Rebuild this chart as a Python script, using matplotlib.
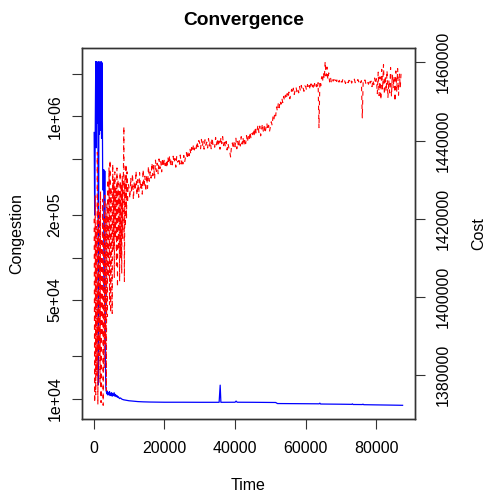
import numpy as np
import matplotlib
matplotlib.use("Agg")
import matplotlib.pyplot as plt
from matplotlib.ticker import FixedLocator, FixedFormatter, NullLocator

plt.rcParams["font.family"] = ["Liberation Sans", "DejaVu Sans"]

# ---------------------------------------------------------------------------
# Data
# ---------------------------------------------------------------------------

# Congestion (left, log axis) -- blue solid
cong_time = [
    150, 300, 450, 600, 750, 900, 1050, 1200, 1350, 1500,
    1650, 1800, 1950, 2100, 2250, 2400, 2550, 2700, 2850, 3000,
    3150, 3300, 3450, 3600, 3750, 3900, 4050, 4200, 4350, 4500,
    4650, 4800, 4950, 5100, 5250, 5400, 5600, 5800, 6000, 6200,
    6400, 6600, 6800, 7000, 7300, 7600, 8000, 8500, 9000, 10000,
    11000, 12500, 14000, 16000, 20000, 25000, 30000, 35500, 35800, 36000,
    40000, 40300, 40600, 45000, 51500, 52000, 58000, 63800, 64000, 64200,
    70000, 73000, 73200, 73400, 76000, 76200, 76400, 80000, 84000, 87400,
]
congestion = [
    7.7e5, 2.0e5, 7.5e5, 2.45e6, 6.0e5, 2.45e6, 9.0e5, 2.4e6, 1.25e4, 2.45e6,
    7.5e5, 2.4e6, 8.0e5, 2.45e6, 7.0e5, 2.4e6, 4.2e5, 3.0e5, 4.2e5, 6.0e4,
    4.1e5, 2.0e4, 1.2e4, 1.12e4, 1.08e4, 1.13e4, 1.06e4, 1.10e4, 1.07e4, 1.12e4,
    1.05e4, 1.09e4, 1.06e4, 1.10e4, 1.04e4, 1.08e4, 1.05e4, 1.10e4, 1.04e4, 1.07e4,
    1.03e4, 1.05e4, 1.02e4, 1.03e4, 1.00e4, 1.01e4, 9.9e3, 9.8e3, 9.75e3, 9.65e3,
    9.6e3, 9.52e3, 9.48e3, 9.45e3, 9.42e3, 9.42e3, 9.41e3, 9.41e3, 1.245e4, 9.41e3,
    9.42e3, 9.6e3, 9.42e3, 9.41e3, 9.38e3, 9.22e3, 9.2e3, 9.18e3, 9.28e3, 9.15e3,
    9.12e3, 9.1e3, 9.17e3, 9.08e3, 9.07e3, 9.13e3, 9.05e3, 9.02e3, 8.99e3, 8.96e3,
]

# Cost (right, linear axis) -- red dashed
cost_time_early = list(range(150, 9751, 150))
cost_early = [
    1420000, 1373000, 1426000, 1375000, 1418000, 1380000, 1437000, 1372500, 1424000, 1385000,
    1422000, 1378000, 1427000, 1373000, 1415000, 1390000, 1425000, 1372300, 1420000, 1382000,
    1426000, 1388000, 1421000, 1376000, 1424000, 1395000, 1430000, 1405000, 1433000, 1398000,
    1435000, 1396000, 1428000, 1410000, 1395800, 1434000, 1412000, 1430000, 1405000, 1432000,
    1415000, 1428000, 1408000, 1433000, 1402500, 1430000, 1412000, 1427000, 1404000, 1432000,
    1410000, 1429000, 1406000, 1431000, 1415000, 1428000, 1443600, 1404000, 1430000, 1418000,
    1434000, 1420000, 1432000, 1424000, 1429000,
]
cost_time_late = list(range(10000, 87001, 250))
cost_late = [
    # 10000 - 14750
    1428000, 1425200, 1430500, 1426800, 1431500, 1424900, 1429600, 1427200, 1432200, 1426000,
    1430000, 1425500, 1431800, 1427700, 1429400, 1426300, 1432600, 1428100, 1430900, 1427000,
    # 15000 - 19750
    1431200, 1427800, 1433500, 1429600, 1432000, 1430400, 1434300, 1431000, 1433600, 1430200,
    1435000, 1432100, 1434200, 1431500, 1435300, 1432800, 1434600, 1432000, 1435500, 1433300,
    # 20000 - 24750
    1435200, 1433600, 1434900, 1433000, 1435800, 1434100, 1436200, 1433400, 1435000, 1433800,
    1436000, 1434300, 1435400, 1433200, 1435900, 1434500, 1434900, 1433600, 1436300, 1434000,
    # 25000 - 29750
    1435300, 1434000, 1436200, 1434500, 1435800, 1436900, 1435300, 1437300, 1436100, 1437900,
    1436500, 1438200, 1437200, 1439000, 1437600, 1438700, 1438000, 1439700, 1438400, 1440000,
    # 30000 - 34750
    1439400, 1437900, 1440300, 1438500, 1439800, 1437800, 1440200, 1438800, 1439600, 1438100,
    1440500, 1438600, 1439900, 1437900, 1440700, 1439000, 1439400, 1438300, 1440800, 1438900,
    # 35000 - 39750
    1440500, 1438500, 1439900, 1437800, 1440800, 1439200, 1441000, 1438700, 1440200, 1438400,
    1439800, 1437600, 1439300, 1438100, 1437200, 1435800, 1438600, 1439400, 1437900, 1439600,
    # 40000 - 44750
    1438400, 1440600, 1437900, 1439800, 1438300, 1440200, 1438600, 1441000, 1439100, 1440800,
    1438700, 1440400, 1439200, 1441300, 1439600, 1441000, 1440100, 1442200, 1440600, 1441800,
    # 45000 - 49750
    1441500, 1442900, 1441000, 1443500, 1441700, 1442600, 1444000, 1442100, 1443700, 1441200,
    1442800, 1444300, 1442400, 1443600, 1441900, 1443300, 1444500, 1442700, 1443900, 1442300,
    # 50000 - 54750
    1443500, 1444800, 1443900, 1446200, 1445300, 1447100, 1446300, 1448600, 1447500, 1449600,
    1448400, 1450200, 1449300, 1450800, 1449700, 1451300, 1450200, 1451600, 1450600, 1452000,
    # 55000 - 59750
    1451000, 1452400, 1450700, 1451900, 1453100, 1452000, 1453400, 1451800, 1452900, 1453700,
    1452500, 1453300, 1452200, 1453800, 1452700, 1454100, 1453000, 1453600, 1452600, 1454000,
    # 60000 - 64750
    1453800, 1452800, 1454300, 1453200, 1454100, 1453000, 1454500, 1453400, 1454200, 1453100,
    1454600, 1453500, 1454300, 1453200, 1454800, 1443300, 1455200, 1454000, 1456300, 1455000,
    # 65000 - 69750
    1457400, 1455800, 1460200, 1456500, 1458800, 1455600, 1457300, 1455000, 1456200, 1454900,
    1455800, 1455200, 1455600, 1454800, 1455500, 1455100, 1455900, 1455000, 1455400, 1454700,
    # 70000 - 74750
    1455400, 1454900, 1455700, 1455000, 1455300, 1454600, 1455500, 1455100, 1454800, 1455400,
    1455000, 1455600, 1454700, 1455300, 1455000, 1455700, 1454800, 1455400, 1455100, 1455600,
    # 75000 - 79750
    1455000, 1455600, 1454800, 1455300, 1445800, 1455200, 1454900, 1455500, 1454600, 1455300,
    1455000, 1454400, 1455600, 1454700, 1455200, 1453800, 1455500, 1454300, 1456000, 1454500,
    # 80000 - 84750
    1455800, 1452000, 1457500, 1451500, 1456300, 1450400, 1458200, 1453000, 1459400, 1451800,
    1456600, 1452600, 1457900, 1450900, 1455400, 1452200, 1458700, 1451300, 1456900, 1453400,
    # 85000 - 87000
    1456500, 1450000, 1457800, 1452500, 1458400, 1451600, 1457000, 1453600, 1458000,
]
cost_time = cost_time_early + cost_time_late
cost = cost_early + cost_late

x_ticks = [0, 20000, 40000, 60000, 80000]
cong_ticks = [1e4, 2e4, 5e4, 1e5, 2e5, 5e5, 1e6, 2e6]
cong_tick_labels = ["1e+04", "", "5e+04", "", "2e+05", "", "1e+06", ""]
cost_ticks = [1380000, 1400000, 1420000, 1440000, 1460000]


def r_limits(values, log=False):
    # R style axis range: data range stretched by 4% on each side
    v = np.log10(values) if log else np.asarray(values, dtype=float)
    lo, hi = v.min(), v.max()
    pad = 0.04 * (hi - lo)
    lo, hi = lo - pad, hi + pad
    return (10 ** lo, 10 ** hi) if log else (lo, hi)


# ---------------------------------------------------------------------------
# Figure
# ---------------------------------------------------------------------------

fig = plt.figure(figsize=(4.87, 4.93), dpi=100)
ax = fig.add_axes([0.168, 0.150, 0.684, 0.753])

ax.plot(cong_time, congestion, color="#0000FF", lw=0.9)
ax.set_yscale("log")
ax.set_xlim(*r_limits(cong_time))
ax.set_ylim(*r_limits(congestion, log=True))

ax.xaxis.set_major_locator(FixedLocator(x_ticks))
ax.set_xticklabels([str(t) for t in x_ticks])
ax.yaxis.set_major_locator(FixedLocator(cong_ticks))
ax.yaxis.set_major_formatter(FixedFormatter(cong_tick_labels))
ax.yaxis.set_minor_locator(NullLocator())

ax2 = ax.twinx()
ax2.plot(cost_time, cost, color="#FF0000", lw=0.8, ls=(0, (4, 4)))
ax2.set_ylim(*r_limits(cost))
ax2.yaxis.set_major_locator(FixedLocator(cost_ticks))
ax2.set_yticklabels([str(t) for t in cost_ticks])

for a in (ax, ax2):
    a.tick_params(direction="out", length=7, width=0.8, labelsize=11.5, color="#333333")
    for s in a.spines.values():
        s.set_linewidth(1.0)
        s.set_color("#333333")

ax.tick_params(axis="x", pad=9)
ax.tick_params(axis="y", pad=7)
ax2.tick_params(axis="y", pad=8)
for lab in ax.get_yticklabels():
    lab.set_rotation(90)
    lab.set_va("center")
for lab in ax2.get_yticklabels():
    lab.set_rotation(90)
    lab.set_va("center")

ax.set_xlabel("Time", fontsize=11.5)
ax.xaxis.set_label_coords(0.5, -0.16)
ax.set_ylabel("Congestion", fontsize=11.5)
ax.yaxis.set_label_coords(-0.172, 0.5)
ax2.set_ylabel("Cost", fontsize=11.5)
ax2.yaxis.set_label_coords(1.168, 0.5)

fig.text(0.5, 0.959, "Convergence", ha="center", va="center",
         fontsize=13.8, fontweight="bold")

fig.savefig("out.png", dpi=100)
